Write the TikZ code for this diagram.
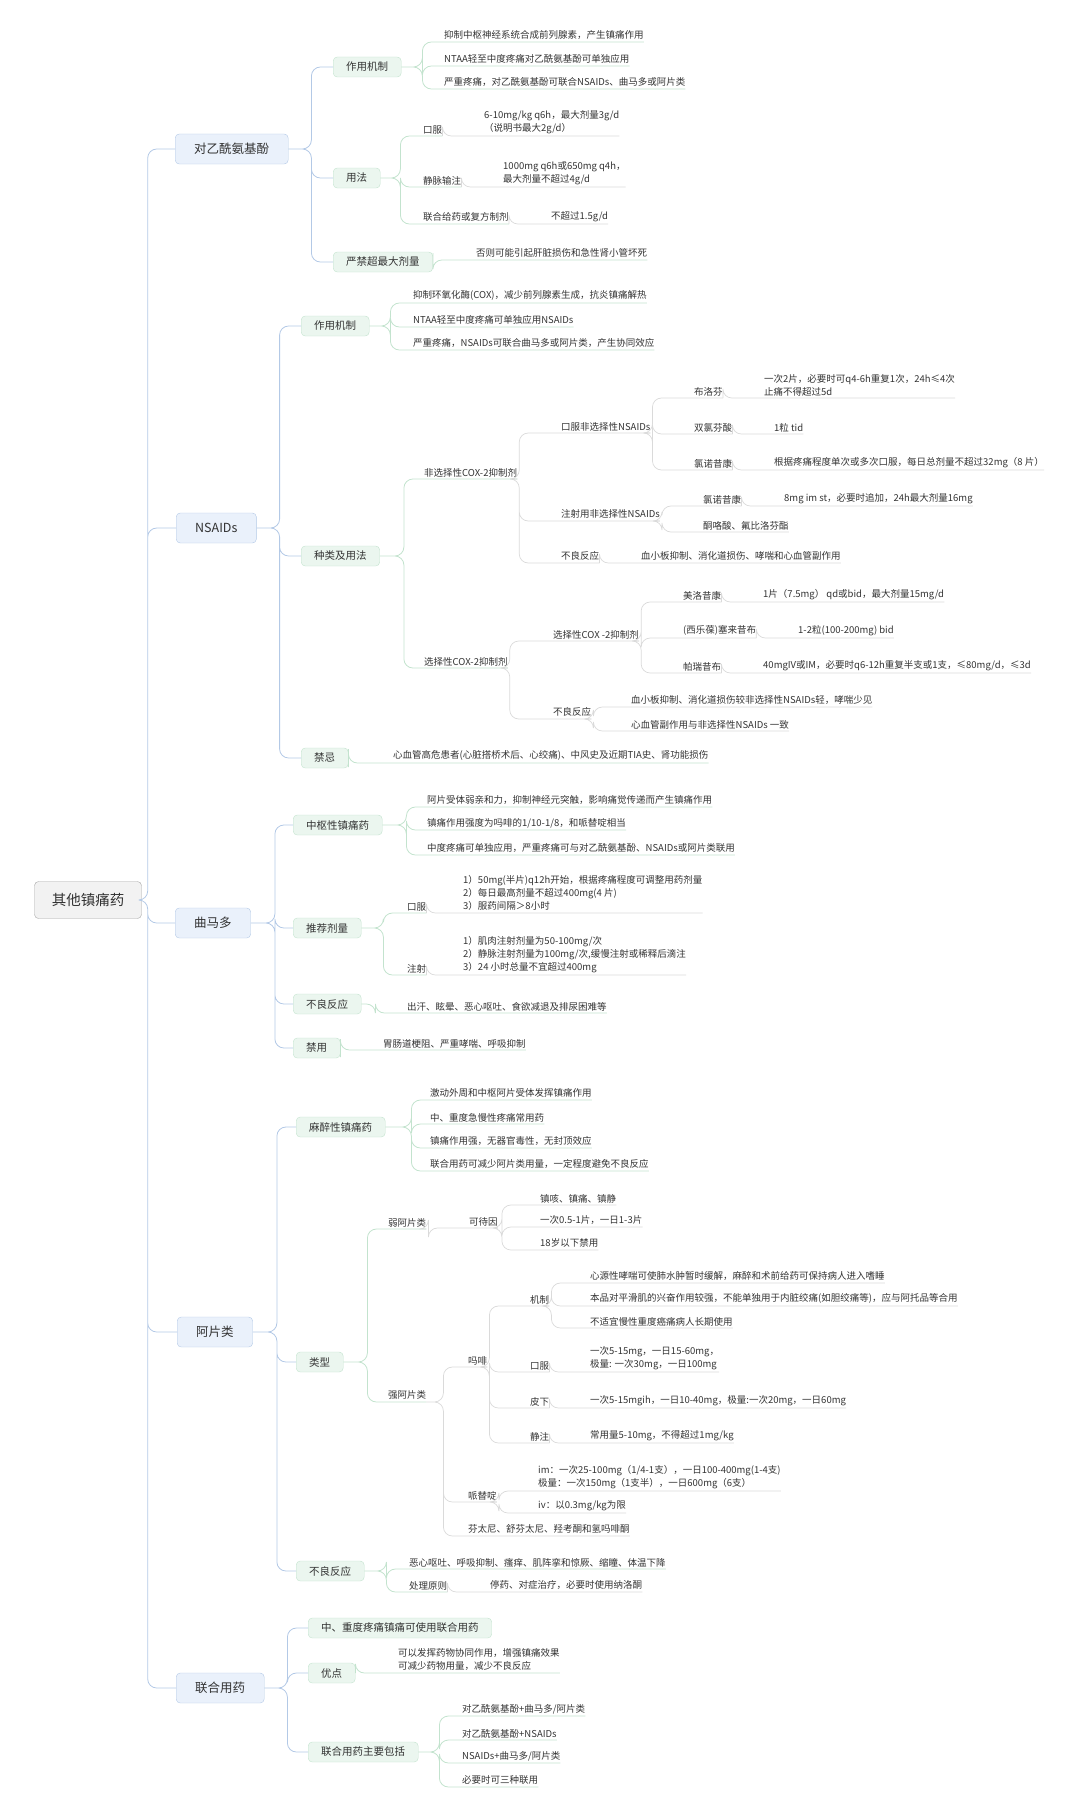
\documentclass[tikz,border=0pt]{standalone}
\usepackage{fontspec}
\setmainfont{Noto Sans CJK SC}
\usetikzlibrary{positioning}
\definecolor{ink}{HTML}{333333}
\definecolor{rootfill}{HTML}{F2F2F2}
\definecolor{rootline}{HTML}{A6A6A6}
\definecolor{bluefill}{HTML}{EAF1FB}
\definecolor{blueline}{HTML}{B3C9E6}
\definecolor{greenfill}{HTML}{EBF6EF}
\definecolor{greenline}{HTML}{C3E3CE}
\definecolor{greyline}{HTML}{DADADA}

\tikzset{
  rootbox/.style={draw=rootline,fill=rootfill,rounded corners=4pt,font=\fontsize{14.5}{16}\selectfont,
    minimum width=107pt,minimum height=37pt,inner sep=0pt},
  lonebox/.style={draw=blueline,fill=bluefill,rounded corners=4pt,font=\fontsize{12.5}{14}\selectfont,
    anchor=west,inner xsep=19pt,minimum height=30pt,inner ysep=0pt},
  ltwobox/.style={draw=greenline,fill=greenfill,rounded corners=4pt,font=\fontsize{10.5}{12}\selectfont,
    anchor=west,inner xsep=13pt,minimum height=20pt,inner ysep=0pt},
  leaf/.style={anchor=south west,inner xsep=0pt,inner ysep=2pt,align=left,font=\fontsize{9.5}{13}\selectfont},
  bline/.style={draw=blueline,line width=0.8pt,rounded corners=9pt},
  gline/.style={draw=greenline,line width=0.8pt,rounded corners=9pt},
  kline/.style={draw=greyline,line width=0.7pt,rounded corners=9pt},
  bx/.style={to path={-- ++(#1,0) |- (\tikztotarget.west)}},
  ul/.style={to path={-- ++(#1,0) |- (\tikztotarget.south west) -- (\tikztotarget.south east)}},
}

\begin{document}
\begin{tikzpicture}[x=1pt,y=-1pt,text=ink]
\useasboundingbox (0,0) rectangle (1080,1817);

% root and main branches
\node[rootbox] (root) at (88,900) {其他镇痛药};
\node[lonebox] (acet) at (175,149) {对乙酰氨基酚};
\node[lonebox] (nsaid) at (176,528) {NSAIDs};
\node[lonebox] (tram) at (175,923) {曲马多};
\node[lonebox] (opi) at (177,1332) {阿片类};
\node[lonebox] (comb) at (176,1688) {联合用药};
\draw[bline] (root.east) to[bx=6] (acet) (root.east) to[bx=6] (nsaid)
  (root.east) to[bx=6] (tram) (root.east) to[bx=6] (opi) (root.east) to[bx=6] (comb);

% 对乙酰氨基酚
\node[ltwobox] (amech) at (333,67) {作用机制};
\node[ltwobox] (ause) at (333,178) {用法};
\node[ltwobox] (amax) at (333,262) {严禁超最大剂量};
\draw[bline] (acet.east) to[bx=23] (amech) (acet.east) to[bx=23] (ause) (acet.east) to[bx=23] (amax);
\node[leaf] (am1) at (444,42) {抑制中枢神经系统合成前列腺素，产生镇痛作用};
\node[leaf] (am2) at (444,66) {NTAA轻至中度疼痛对乙酰氨基酚可单独应用};
\node[leaf] (am3) at (444,89) {严重疼痛，对乙酰氨基酚可联合NSAIDs、曲马多或阿片类};
\draw[gline] (amech.east) to[ul=21] (am1) (amech.east) to[ul=21] (am2) (amech.east) to[ul=21] (am3);
\node[leaf] (au1) at (423,136) {口服};
\node[leaf] (au1c) at (484,136) {6-10mg/kg q6h，最大剂量3g/d\\（说明书最大2g/d）};
\node[leaf] (au2) at (423,187) {静脉输注};
\node[leaf] (au2c) at (503,187) {1000mg q6h或650mg q4h，\\最大剂量不超过4g/d};
\node[leaf] (au3) at (423,224) {联合给药或复方制剂};
\node[leaf] (au3c) at (551,224) {不超过1.5g/d};
\draw[gline] (ause.east) to[ul=20] (au1) (ause.east) to[ul=20] (au2) (ause.east) to[ul=20] (au3);
\draw[kline] (au1.south east) to[ul=0] (au1c) (au2.south east) to[ul=0] (au2c) (au3.south east) to[ul=0] (au3c);
\node[leaf] (ax1) at (476,260) {否则可能引起肝脏损伤和急性肾小管坏死};
\draw[gline] (amax.east) to[ul=0] (ax1);

% NSAIDs
\node[ltwobox] (nmech) at (301,326) {作用机制};
\node[ltwobox] (nkind) at (301,556) {种类及用法};
\node[ltwobox] (nban) at (301,758) {禁忌};
\draw[bline] (nsaid.east) to[bx=23] (nmech) (nsaid.east) to[bx=23] (nkind) (nsaid.east) to[bx=23] (nban);
\node[leaf] (nm1) at (413,303) {抑制环氧化酶(COX)，减少前列腺素生成，抗炎镇痛解热};
\node[leaf] (nm2) at (413,327) {NTAA轻至中度疼痛可单独应用NSAIDs};
\node[leaf] (nm3) at (413,350) {严重疼痛，NSAIDs可联合曲马多或阿片类，产生协同效应};
\draw[gline] (nmech.east) to[ul=21] (nm1) (nmech.east) to[ul=21] (nm2) (nmech.east) to[ul=21] (nm3);
\node[leaf] (ns) at (424,479) {非选择性COX-2抑制剂};
\node[leaf] (sel) at (424,668) {选择性COX-2抑制剂};
\draw[gline] (nkind.east) to[ul=24] (ns) (nkind.east) to[ul=24] (sel);
\node[leaf] (nso) at (561,433) {口服非选择性NSAIDs};
\node[leaf] (nsi) at (561,521) {注射用非选择性NSAIDs};
\node[leaf] (nsa) at (561,563) {不良反应};
\draw[kline] (ns.south east) to[ul=2] (nso) (ns.south east) to[ul=2] (nsi) (ns.south east) to[ul=2] (nsa);
\node[leaf] (ibu) at (694,398) {布洛芬};
\node[leaf] (ibuc) at (764,398) {一次2片，必要时可q4-6h重复1次，24h≤4次\\止痛不得超过5d};
\node[leaf] (dic) at (694,434) {双氯芬酸};
\node[leaf] (dicc) at (774,434) {1粒 tid};
\node[leaf] (lor) at (694,470) {氯诺昔康};
\node[leaf] (lorc) at (774,470) {根据疼痛程度单次或多次口服，每日总剂量不超过32mg（8 片）};
\draw[kline] (nso.south east) to[ul=2] (ibu) (nso.south east) to[ul=2] (dic) (nso.south east) to[ul=2] (lor);
\draw[kline] (ibu.south east) to[ul=0] (ibuc) (dic.south east) to[ul=0] (dicc) (lor.south east) to[ul=0] (lorc);
\node[leaf] (lorb) at (703,506) {氯诺昔康};
\node[leaf] (lorbc) at (784,506) {8mg im st，必要时追加，24h最大剂量16mg};
\node[leaf] (ket) at (703,532) {酮咯酸、氟比洛芬酯};
\draw[kline] (nsi.south east) to[ul=2] (lorb) (nsi.south east) to[ul=2] (ket) (lorb.south east) to[ul=0] (lorbc);
\node[leaf] (nsac) at (641,563) {血小板抑制、消化道损伤、哮喘和心血管副作用};
\draw[kline] (nsa.south east) to[ul=0] (nsac);
\node[leaf] (selb) at (553,641) {选择性COX -2抑制剂};
\node[leaf] (sela) at (553,719) {不良反应};
\draw[kline] (sel.south east) to[ul=2] (selb) (sel.south east) to[ul=2] (sela);
\node[leaf] (mel) at (683,602) {美洛昔康};
\node[leaf] (melc) at (763,602) {1片（7.5mg） qd或bid，最大剂量15mg/d};
\node[leaf] (cel) at (683,638) {(西乐葆)塞来昔布};
\node[leaf] (celc) at (798,638) {1-2粒(100-200mg) bid};
\node[leaf] (par) at (683,673) {帕瑞昔布};
\node[leaf] (parc) at (763,673) {40mgIV或IM，必要时q6-12h重复半支或1支，≤80mg/d，≤3d};
\draw[kline] (selb.south east) to[ul=2] (mel) (selb.south east) to[ul=2] (cel) (selb.south east) to[ul=2] (par);
\draw[kline] (mel.south east) to[ul=0] (melc) (cel.south east) to[ul=0] (celc) (par.south east) to[ul=0] (parc);
\node[leaf] (sa1) at (631,707) {血小板抑制、消化道损伤较非选择性NSAIDs轻，哮喘少见};
\node[leaf] (sa2) at (631,731) {心血管副作用与非选择性NSAIDs 一致};
\draw[kline] (sela.south east) to[ul=2] (sa1) (sela.south east) to[ul=2] (sa2);
\node[leaf] (nb1) at (393,763) {心血管高危患者(心脏搭桥术后、心绞痛)、中风史及近期TIA史、肾功能损伤};
\draw[gline] (nban.east) to[ul=0] (nb1);

% 曲马多
\node[ltwobox] (tc) at (293,825) {中枢性镇痛药};
\node[ltwobox] (tdose) at (293,928) {推荐剂量};
\node[ltwobox] (tae) at (293,1004) {不良反应};
\node[ltwobox] (tban) at (293,1048) {禁用};
\draw[bline] (tram.east) to[bx=24] (tc) (tram.east) to[bx=24] (tdose) (tram.east) to[bx=24] (tae) (tram.east) to[bx=24] (tban);
\node[leaf] (tc1) at (427,807) {阿片受体弱亲和力，抑制神经元突触，影响痛觉传递而产生镇痛作用};
\node[leaf] (tc2) at (427,830) {镇痛作用强度为吗啡的1/10-1/8，和哌替啶相当};
\node[leaf] (tc3) at (427,855) {中度疼痛可单独应用，严重疼痛可与对乙酰氨基酚、NSAIDs或阿片类联用};
\draw[gline] (tc.east) to[ul=24] (tc1) (tc.east) to[ul=24] (tc2) (tc.east) to[ul=24] (tc3);
\node[leaf] (to) at (407,913) {口服};
\node[leaf] (toc) at (463,913) {1）50mg(半片)q12h开始，根据疼痛程度可调整用药剂量\\2）每日最高剂量不超过400mg(4 片)\\3）服药间隔＞8小时};
\node[leaf] (ti) at (407,975) {注射};
\node[leaf] (tic) at (463,975) {1）肌肉注射剂量为50-100mg/次\\2）静脉注射剂量为100mg/次,缓慢注射或稀释后滴注\\3）24 小时总量不宜超过400mg};
\draw[gline] (tdose.east) to[ul=22] (to) (tdose.east) to[ul=22] (ti);
\draw[kline] (to.south east) to[ul=0] (toc) (ti.south east) to[ul=0] (tic);
\node[leaf] (tae1) at (407,1013) {出汗、眩晕、恶心呕吐、食欲减退及排尿困难等};
\draw[gline] (tae.east) to[ul=14] (tae1);
\node[leaf] (tb1) at (383,1050) {胃肠道梗阻、严重哮喘、呼吸抑制};
\draw[gline] (tban.east) to[ul=0] (tb1);

% 阿片类
\node[ltwobox] (omz) at (296,1127) {麻醉性镇痛药};
\node[ltwobox] (otype) at (296,1362) {类型};
\node[ltwobox] (oae) at (296,1571) {不良反应};
\draw[bline] (opi.east) to[bx=24] (omz) (opi.east) to[bx=24] (otype) (opi.east) to[bx=24] (oae);
\node[leaf] (om1) at (430,1100) {激动外周和中枢阿片受体发挥镇痛作用};
\node[leaf] (om2) at (430,1124) {中、重度急慢性疼痛常用药};
\node[leaf] (om3) at (430,1148) {镇痛作用强，无器官毒性，无封顶效应};
\node[leaf] (om4) at (430,1171) {联合用药可减少阿片类用量，一定程度避免不良反应};
\draw[gline] (omz.east) to[ul=26] (om1) (omz.east) to[ul=26] (om2) (omz.east) to[ul=26] (om3) (omz.east) to[ul=26] (om4);
\node[leaf] (weak) at (388,1229) {弱阿片类};
\node[leaf] (strong) at (388,1402) {强阿片类};
\draw[gline] (otype.east) to[ul=24] (weak) (otype.east) to[ul=24] (strong);
\node[leaf] (cod) at (469,1228) {可待因};
\draw[kline] (weak.south east) to[ul=2] (cod);
\node[leaf] (cd1) at (540,1205) {镇咳、镇痛、镇静};
\node[leaf] (cd2) at (540,1227) {一次0.5-1片，一日1-3片};
\node[leaf] (cd3) at (540,1250) {18岁以下禁用};
\draw[kline] (cod.south east) to[ul=4] (cd1) (cod.south east) to[ul=4] (cd2) (cod.south east) to[ul=4] (cd3);
\node[leaf] (mor) at (468,1367) {吗啡};
\node[leaf] (pet) at (468,1502) {哌替啶};
\node[leaf] (fen) at (468,1536) {芬太尼、舒芬太尼、羟考酮和氢吗啡酮};
\draw[kline] (strong.south east) to[ul=17] (mor) (strong.south east) to[ul=17] (pet) (strong.south east) to[ul=17] (fen);
\node[leaf] (mm) at (530,1306) {机制};
\node[leaf] (mo) at (530,1372) {口服};
\node[leaf] (msub) at (530,1408) {皮下};
\node[leaf] (miv) at (530,1443) {静注};
\draw[kline] (mor.south east) to[ul=2] (mm) (mor.south east) to[ul=2] (mo) (mor.south east) to[ul=2] (msub) (mor.south east) to[ul=2] (miv);
\node[leaf] (mm1) at (590,1283) {心源性哮喘可使肺水肿暂时缓解，麻醉和术前给药可保持病人进入嗜睡};
\node[leaf] (mm2) at (590,1306) {本品对平滑肌的兴奋作用较强，不能单独用于内脏绞痛(如胆绞痛等)，应与阿托品等合用};
\node[leaf] (mm3) at (590,1328) {不适宜慢性重度癌痛病人长期使用};
\draw[kline] (mm.south east) to[ul=2] (mm1) (mm.south east) to[ul=2] (mm2) (mm.south east) to[ul=2] (mm3);
\node[leaf] (moc) at (590,1372) {一次5-15mg，一日15-60mg，\\极量: 一次30mg，一日100mg};
\node[leaf] (msc) at (590,1408) {一次5-15mgih，一日10-40mg，极量:一次20mg，一日60mg};
\node[leaf] (mic) at (590,1443) {常用量5-10mg，不得超过1mg/kg};
\draw[kline] (mo.south east) to[ul=0] (moc) (msub.south east) to[ul=0] (msc) (miv.south east) to[ul=0] (mic);
\node[leaf] (pt1) at (538,1491) {im：一次25-100mg（1/4-1支），一日100-400mg(1-4支)\\极量：一次150mg（1支半），一日600mg（6支）};
\node[leaf] (pt2) at (538,1513) {iv：以0.3mg/kg为限};
\draw[kline] (pet.south east) to[ul=2] (pt1) (pet.south east) to[ul=2] (pt2);
\node[leaf] (oa1) at (409,1569) {恶心呕吐、呼吸抑制、瘙痒、肌阵挛和惊厥、缩瞳、体温下降};
\node[leaf] (oa2) at (409,1592) {处理原则};
\node[leaf] (oa2c) at (490,1592) {停药、对症治疗，必要时使用纳洛酮};
\draw[gline] (oae.east) to[ul=22] (oa1) (oae.east) to[ul=22] (oa2);
\draw[kline] (oa2.south east) to[ul=0] (oa2c);

% 联合用药
\node[ltwobox] (cmid) at (308,1628) {中、重度疼痛镇痛可使用联合用药};
\node[ltwobox] (cadv) at (308,1673) {优点};
\node[ltwobox] (cinc) at (308,1752) {联合用药主要包括};
\draw[bline] (comb.east) to[bx=23] (cmid) (comb.east) to[bx=23] (cadv) (comb.east) to[bx=23] (cinc);
\node[leaf] (cad1) at (398,1673) {可以发挥药物协同作用，增强镇痛效果\\可减少药物用量，减少不良反应};
\draw[gline] (cadv.east) to[ul=0] (cad1);
\node[leaf] (ci1) at (462,1716) {对乙酰氨基酚+曲马多/阿片类};
\node[leaf] (ci2) at (462,1740) {对乙酰氨基酚+NSAIDs};
\node[leaf] (ci3) at (462,1763) {NSAIDs+曲马多/阿片类};
\node[leaf] (ci4) at (462,1787) {必要时可三种联用};
\draw[gline] (cinc.east) to[ul=21] (ci1) (cinc.east) to[ul=21] (ci2) (cinc.east) to[ul=21] (ci3) (cinc.east) to[ul=21] (ci4);
\end{tikzpicture}
\end{document}
